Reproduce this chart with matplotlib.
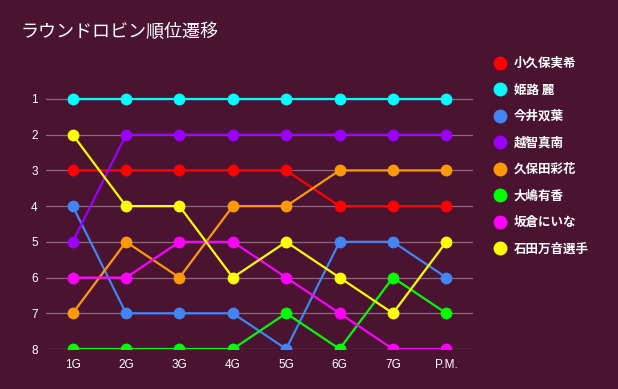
import matplotlib
matplotlib.use("Agg")
import matplotlib.pyplot as plt
from matplotlib.lines import Line2D

plt.rcParams['font.family'] = ['Noto Sans CJK JP', 'DejaVu Sans']

games = ["1G", "2G", "3G", "4G", "5G", "6G", "7G", "P.M."]
players = ["小久保実希", "姫路 麗", "今井双葉", "越智真南", "久保田彩花", "大嶋有香", "坂倉にいな", "石田万音選手"]
ranks = {
    "小久保実希": [3, 3, 3, 3, 3, 4, 4, 4],
    "姫路 麗": [1, 1, 1, 1, 1, 1, 1, 1],
    "今井双葉": [4, 7, 7, 7, 8, 5, 5, 6],
    "越智真南": [5, 2, 2, 2, 2, 2, 2, 2],
    "久保田彩花": [7, 5, 6, 4, 4, 3, 3, 3],
    "大嶋有香": [8, 8, 8, 8, 7, 8, 6, 7],
    "坂倉にいな": [6, 6, 5, 5, 6, 7, 8, 8],
    "石田万音選手": [2, 4, 4, 6, 5, 6, 7, 5],
}
colors = ["#ff0000", "#00ffff", "#4285f4", "#9900ff", "#ff9900", "#00ff00", "#ff00ff", "#ffff00"]
ytick_labels = ["1", "2", "3", "4", "5", "6", "7", "8"]

bg = "#4a1331"
fig = plt.figure(figsize=(6.18, 3.89), dpi=100, facecolor=bg)
ax = fig.add_axes([46/618, 1-349/389, (473-46)/618, (349-81.1)/389])
ax.set_facecolor(bg)

x = list(range(len(games)))
for p, c in zip(players, colors):
    ax.plot(x, ranks[p], color=c, lw=1.6, marker='o', markersize=7.5, label=p, zorder=3)

ax.set_xlim(-0.5, len(games) - 0.5)
ax.set_ylim(8, 0.5)
ax.set_yticks(range(1, 9))
ax.set_yticklabels(ytick_labels)
ax.set_xticks(x)
ax.set_xticklabels(games)
for lbl in ax.get_xticklabels() + ax.get_yticklabels():
    lbl.set_family(['Liberation Sans', 'DejaVu Sans'])
ax.grid(axis='y', color='#8c6a7c', lw=0.9, zorder=1)
ax.grid(axis='x', visible=False)
for s in ax.spines.values():
    s.set_visible(False)
ax.tick_params(axis='both', length=0, colors='white', labelsize=8.5)
ax.tick_params(axis='y', pad=6)
ax.tick_params(axis='x', pad=7)

fig.text(20/618, 1-32/389, "ラウンドロビン順位遷移", color='white', fontsize=13, va='center', ha='left')

handles = [Line2D([], [], color=c, marker='o', linestyle='none', markersize=9) for c in colors]
leg = fig.legend(handles, players, loc='upper left', bbox_to_anchor=(486/618, 1-52/389),
                 frameon=False, fontsize=9, labelspacing=1.08, handletextpad=0.3,
                 handlelength=1.5, borderaxespad=0)
for t in leg.get_texts():
    t.set_color('white')
    t.set_fontweight('bold')

fig.savefig("out.png", dpi=100, facecolor=bg)
